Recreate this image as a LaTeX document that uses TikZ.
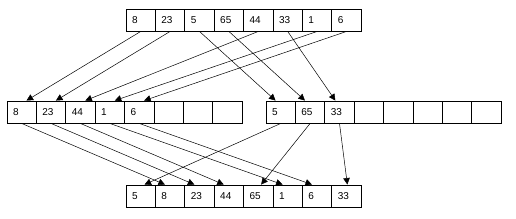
\documentclass[tikz,border=0pt]{standalone}
\usepackage{fontspec}
\setmainfont{Liberation Sans}
\usetikzlibrary{arrows.meta,calc}
\tikzset{
  cell/.style={draw, line width=0.9pt, minimum width=29.4pt, minimum height=22pt, inner sep=0pt, inner xsep=6pt, text width=17.4pt, align=left, font=\fontsize{10}{11}\selectfont, anchor=center},
  arr/.style={line width=0.5pt, -{Triangle[length=6.5pt,width=6.5pt]}}
}
\begin{document}
\begin{tikzpicture}[x=1pt,y=-1pt]
\useasboundingbox (0,0) rectangle (516,219);
% top array
\foreach \v [count=\i] in {8,23,5,65,44,33,1,6}
  \node[cell] (t\i) at ({126+29.4*(\i-0.5)},20) {\v};
% left middle
\foreach \v [count=\i] in {8,23,44,1,6,{},{},{}}
  \node[cell] (l\i) at ({7+29.4*(\i-0.5)},112) {\v};
% right middle
\foreach \v [count=\i] in {5,65,33,{},{},{},{},{}}
  \node[cell] (r\i) at ({266+29.4*(\i-0.5)},112) {\v};
% bottom
\foreach \v [count=\i] in {5,8,23,44,65,1,6,33}
  \node[cell] (b\i) at ({126+29.4*(\i-0.5)},196) {\v};
% top -> middle
\draw[arr] (t1.south) -- ($(l1.north west)+(20,0)$);
\draw[arr] (t2.south) -- ($(l2.north west)+(20,0)$);
\draw[arr] (t3.south) -- ($(r1.north west)+(10,0)$);
\draw[arr] (t4.south) -- ($(r2.north west)+(10,0)$);
\draw[arr] (t5.south) -- ($(l3.north west)+(20,0)$);
\draw[arr] (t6.south) -- ($(r3.north west)+(11,0)$);
\draw[arr] (t7.south) -- ($(l4.north west)+(20,0)$);
\draw[arr] (t8.south) -- ($(l5.north west)+(20,0)$);
% middle -> bottom
\draw[arr] (l1.south) -- ($(b2.north west)+(10,0)$);
\draw[arr] (l2.south) -- ($(b3.north west)+(10,0)$);
\draw[arr] (l3.south) -- ($(b4.north west)+(10,0)$);
\draw[arr] (l4.south) -- ($(b6.north west)+(10,0)$);
\draw[arr] (l5.south) -- ($(b7.north west)+(10,0)$);
\draw[arr] (r1.south) -- ($(b1.north west)+(19,0)$);
\draw[arr] (r2.south) -- ($(b5.north west)+(18,0)$);
\draw[arr] (r3.south) -- ($(b8.north west)+(16,0)$);
\end{tikzpicture}
\end{document}
